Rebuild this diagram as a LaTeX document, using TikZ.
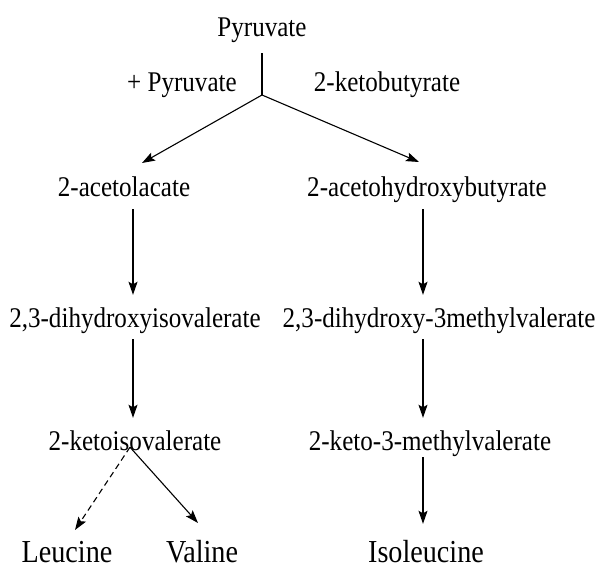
\documentclass[tikz,border=0pt]{standalone}
\usepackage{fontspec}
\setmainfont{Liberation Serif}[FakeStretch=0.88]
\usetikzlibrary{arrows.meta}
\begin{document}
\begin{tikzpicture}[x=1pt,y=-1pt,
  lbl/.style={inner sep=0pt, anchor=base, text height=20pt, text depth=6pt, font=\fontsize{28.5}{30}\selectfont},
  big/.style={inner sep=0pt, anchor=base, text height=23pt, text depth=0pt, font=\fontsize{32}{34}\selectfont},
  ln/.style={line width=1.1pt},
  arr/.style={ln, -{Stealth[length=13pt,width=9pt,inset=2.5pt]}},
  vstep/.style={arr, shorten <=6pt, shorten >=12pt}]
\useasboundingbox (0,0) rectangle (602,569);
% labels
\node[lbl] (pyr)  at (262,37)  {Pyruvate};
\node[lbl] (plus) at (182,92)  {+ Pyruvate};
\node[lbl] (kbut) at (387,92)  {2-ketobutyrate};
\node[lbl] (acet) at (124,197) {2-acetolacate};
\node[lbl] (ahb)  at (427,197) {2-acetohydroxybutyrate};
\node[lbl] (dhiv) at (135,327) {2,3-dihydroxyisovalerate};
\node[lbl] (dhmv) at (439,327) {2,3-dihydroxy-3methylvalerate};
\node[lbl] (kiv)  at (135,450) {2-ketoisovalerate};
\node[lbl] (kmv)  at (430,450) {2-keto-3-methylvalerate};
\node[big] (leu)  at (67,562)  {Leucine};
\node[big] (val)  at (202,562) {Valine};
\node[big] (ile)  at (426,562) {Isoleucine};
% junction and free ends
\coordinate (j) at (262,95);
\coordinate (tipL) at (142,163);
\coordinate (tipR) at (419,162);
\coordinate (kivb) at ([xshift=-5pt,yshift=9pt]kiv.south);
\coordinate (tipLeu) at (75,530);
\coordinate (tipVal) at (198,523);
% connectors
\draw[ln, shorten <=10pt] (pyr.south) -- (j);
\draw[arr] (j) -- (tipL);
\draw[arr] (j) -- (tipR);
\draw[vstep] (acet.south -| 133,0) -- (dhiv.north -| 133,0);
\draw[vstep] (dhiv.south -| 133,0) -- (kiv.north -| 133,0);
\draw[vstep] (ahb.south -| 423,0) -- (dhmv.north -| 423,0);
\draw[vstep] (dhmv.south -| 423,0) -- (kmv.north -| 423,0);
\draw[arr, shorten <=1pt, shorten >=15pt] (kmv.south -| 423,0) -- (ile.north -| 423,0);
\draw[arr, dashed, dash pattern=on 6pt off 4pt] (kivb) -- (tipLeu);
\draw[arr] (kivb) -- (tipVal);
\end{tikzpicture}
\end{document}
